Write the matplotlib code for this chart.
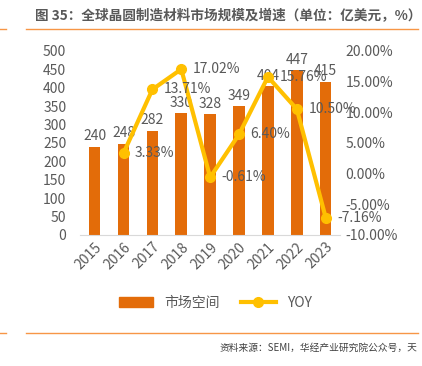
import matplotlib.pyplot as plt
from matplotlib.lines import Line2D

plt.rcParams['font.family'] = ['Noto Sans CJK SC', 'DejaVu Sans']

years = ['2015', '2016', '2017', '2018', '2019', '2020', '2021', '2022', '2023']
market = [240, 248, 282, 330, 328, 349, 404, 447, 415]
yoy_years = years[1:]
yoy = [3.33, 13.71, 17.02, -0.61, 6.40, 15.76, 10.50, -7.16]

bar_color = '#E36C09'
line_color = '#FFC000'
text_color = '#595959'

fig = plt.figure(figsize=(4.22, 3.66), dpi=100)
ax = fig.add_axes([0.19, 0.358, 0.616, 0.503])
ax2 = ax.twinx()

x = list(range(len(years)))
ax.bar(x, market, width=0.4, color=bar_color, label='市场空间', zorder=2)
for xi, v in zip(x, market):
    ax.text(xi, v + 10, str(v), ha='center', va='bottom', fontsize=10, color=text_color)

xl = x[1:]
ax2.plot(xl, yoy, color=line_color, lw=3, marker='o', ms=7, label='YOY', zorder=3)
for xi, v in zip(xl, yoy):
    ax2.text(xi + 0.4, v, f'{v:.2f}%', ha='left', va='center', fontsize=10, color=text_color)

ax.set_ylim(0, 500)
ax.set_yticks(range(0, 501, 50))
ax2.set_ylim(-10, 20)
ax2.set_yticks(range(-10, 21, 5))
ax2.set_yticklabels([f'{t:.2f}%' for t in range(-10, 21, 5)])
ax.set_xlim(-0.5, len(years) - 0.5)
ax.set_xticks(x)
ax.set_xticklabels(years, rotation=45, ha='right', rotation_mode='anchor')

for a in (ax, ax2):
    for s in a.spines.values():
        s.set_visible(False)
    a.tick_params(length=0, labelsize=10, colors=text_color)
ax.spines['bottom'].set_visible(True)
ax.spines['bottom'].set_color('#D9D9D9')
ax.tick_params(axis='y', pad=10)
ax2.tick_params(axis='y', pad=4)

handles = [plt.Rectangle((0, 0), 1, 1, color=bar_color),
           Line2D([], [], color=line_color, lw=3, marker='o', ms=7)]
fig.legend(handles, ['市场空间', 'YOY'], loc='center', bbox_to_anchor=(0.51, 0.172),
           ncol=2, frameon=False, fontsize=10, labelcolor=text_color,
           handlelength=2.5, columnspacing=1.5)

fig.text(0.082, 0.955, '图 35：全球晶圆制造材料市场规模及增速（单位：亿美元，%）',
         fontsize=9.8, color=text_color, weight='bold', va='center')
fig.add_artist(Line2D([0.0, 0.015], [0.92, 0.92], color='#F79646', lw=1))
fig.add_artist(Line2D([0.062, 0.99], [0.92, 0.92], color='#F79646', lw=1))
fig.add_artist(Line2D([0.0, 0.015], [0.09, 0.09], color='#F79646', lw=1))
fig.add_artist(Line2D([0.062, 0.99], [0.09, 0.09], color='#F79646', lw=1))
fig.text(0.99, 0.05, '资料来源：SEMI，华经产业研究院公众号，天', fontsize=7,
         color='#404040', ha='right', va='center')

fig.savefig('out.png', dpi=100)
